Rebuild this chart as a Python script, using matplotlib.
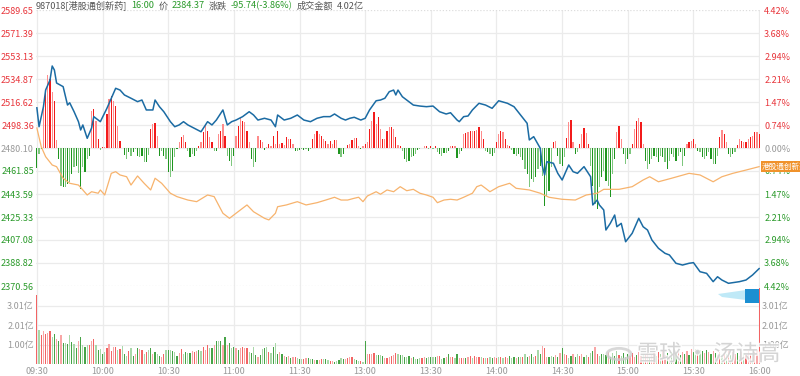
import matplotlib
matplotlib.use("Agg")
import matplotlib.pyplot as plt
import matplotlib.patheffects as pe
from matplotlib.patches import Rectangle, Polygon, Circle
import numpy as np

plt.rcParams['font.family'] = ['Noto Sans CJK SC', 'DejaVu Sans']

# ---- data --------------------------------------------------------------
code_name = "987018[港股通创新药]"
last_time = "16:00"
last_price = 2384.37
change = -95.74
change_pct = -3.86
turnover = 4.02  # 亿

base = 2480.10
price_ticks = [2589.65, 2571.39, 2553.13, 2534.87, 2516.62, 2498.36, 2480.10,
               2461.85, 2443.59, 2425.33, 2407.08, 2388.82, 2370.56]
time_labels = ['09:30', '10:00', '10:30', '11:00', '11:30', '13:00',
               '13:30', '14:00', '14:30', '15:00', '15:30', '16:00']
vol_ticks = [1.00, 2.01, 3.01]
vol_top = 4.02

# minute index (0 = 09:30, 150 = 13:00, 330 = 16:00) -> price
price_min = [0, 1, 3, 4, 6, 7, 8, 9, 12, 14, 15, 17, 19, 20, 21, 23, 25, 26, 28, 29,
             32, 35, 36, 38, 40, 43, 46, 48, 50, 53, 54, 56, 58, 61, 63, 65, 67, 69,
             72, 75, 78, 80, 82, 85, 87, 89, 91, 94, 97, 99, 101, 104, 107, 109, 110,
             113, 116, 119, 122, 125, 128, 131, 134, 136, 139, 141, 143, 145, 148,
             150, 152, 155, 157, 159, 161, 163, 164, 165, 167, 170, 172, 175, 178,
             181, 184, 187, 189, 192, 193, 195, 197, 199, 202, 205, 208, 211, 215,
             218, 221, 224, 225, 227, 230, 231, 232, 233, 236, 238, 240, 241, 243,
             245, 247, 250, 253, 254, 256, 257, 259, 260, 262, 264, 265, 267, 269,
             272, 273, 275, 277, 279, 281, 284, 287, 289, 292, 295, 298, 300, 303,
             306, 309, 311, 313, 316, 318, 321, 324, 327, 330]
price_val = [2512.0, 2497.0, 2512.9, 2526.1, 2534.1, 2545.2, 2542.0, 2531.7, 2528.8,
             2514.2, 2516.0, 2508.9, 2501.0, 2494.4, 2498.4, 2487.8, 2496.0, 2505.0,
             2502.3, 2501.0, 2511.6, 2523.5, 2527.5, 2526.1, 2522.2, 2519.6, 2516.9,
             2518.2, 2510.3, 2510.3, 2518.2, 2512.9, 2508.9, 2501.0, 2497.0, 2498.4,
             2501.0, 2498.4, 2495.7, 2493.0, 2501.0, 2498.4, 2502.3, 2510.3, 2498.4,
             2501.0, 2502.3, 2505.0, 2508.9, 2506.3, 2502.3, 2503.7, 2502.3, 2497.0,
             2506.3, 2502.3, 2503.7, 2506.3, 2502.3, 2501.0, 2503.7, 2505.0, 2505.0,
             2507.1, 2503.7, 2502.3, 2503.7, 2504.5, 2502.3, 2503.7, 2510.3, 2517.6,
             2518.2, 2519.6, 2524.8, 2526.1, 2522.2, 2526.1, 2520.8, 2516.9, 2514.2,
             2513.4, 2512.9, 2513.4, 2508.9, 2507.1, 2508.1, 2502.3, 2501.0, 2505.0,
             2505.5, 2510.3, 2515.6, 2514.2, 2511.6, 2517.6, 2515.6, 2512.9, 2506.3,
             2499.7, 2486.5, 2489.1, 2479.9, 2465.3, 2458.7, 2469.2, 2468.0, 2460.0,
             2454.7, 2458.7, 2466.6, 2461.3, 2460.0, 2465.3, 2457.3, 2434.9, 2438.8,
             2434.9, 2430.9, 2415.0, 2420.3, 2426.9, 2417.6, 2420.3, 2405.7, 2412.4,
             2416.4, 2424.3, 2417.6, 2415.0, 2407.1, 2400.5, 2396.5, 2395.2, 2388.6,
             2387.2, 2388.6, 2389.1, 2381.9, 2380.6, 2374.0, 2377.9, 2375.3, 2372.7,
             2373.2, 2374.0, 2375.3, 2379.3, 2384.37]

# orange comparison line, same price scale
bench_min = [0, 2, 4, 7, 9, 12, 15, 19, 21, 23, 25, 28, 29, 31, 34, 36, 38, 41, 43,
             46, 49, 52, 54, 57, 61, 64, 69, 73, 78, 81, 85, 88, 91, 96, 99, 104, 106,
             109, 110, 114, 119, 123, 128, 132, 136, 139, 142, 145, 147, 149, 151, 155,
             157, 160, 163, 166, 169, 172, 175, 178, 181, 183, 186, 189, 192, 195,
             199, 201, 203, 205, 207, 211, 216, 219, 225, 230, 234, 240, 246, 251,
             256, 259, 266, 272, 277, 280, 284, 290, 298, 303, 309, 313, 318, 324, 330]
bench_val = [2496.0, 2481.1, 2473.2, 2466.6, 2465.3, 2456.1, 2452.1, 2450.7, 2446.8,
             2442.8, 2445.4, 2444.2, 2446.8, 2442.8, 2460.0, 2461.3, 2458.7, 2457.3,
             2450.7, 2457.9, 2452.1, 2446.8, 2456.1, 2452.1, 2444.2, 2441.5, 2438.8,
             2437.5, 2442.8, 2441.5, 2428.3, 2424.3, 2428.3, 2434.9, 2429.5, 2424.3,
             2423.0, 2428.3, 2433.5, 2434.9, 2437.5, 2434.9, 2436.7, 2438.8, 2441.0,
             2438.8, 2438.8, 2440.2, 2441.0, 2437.5, 2442.0, 2445.4, 2443.4, 2446.8,
             2445.4, 2449.4, 2446.2, 2447.3, 2444.2, 2442.8, 2441.0, 2436.7, 2438.8,
             2439.4, 2438.8, 2441.0, 2444.2, 2449.4, 2450.7, 2448.1, 2445.4, 2449.4,
             2452.1, 2448.1, 2446.8, 2444.2, 2441.0, 2439.4, 2438.8, 2442.8, 2444.2,
             2447.3, 2447.3, 2449.4, 2454.7, 2457.3, 2453.3, 2456.1, 2460.0, 2458.7,
             2453.3, 2457.3, 2460.0, 2462.6, 2465.3]

# per-minute buy/sell pressure bars (indicator units, + red / - green)
flow = [-20, -6, -1, 42, 57, 73, 69, 56, 47, 8,
        -11, -38, -39, -39, -36, -34, -26, -19, -18, -25,
        -41, -19, -24, -11, -8, 37, 39, 27, 9, -2,
        1, 1, 34, 49, 52, 47, 42, 22, 7, 0,
        -7, -11, -4, -8, -4, -1, -8, -9, -8, -14,
        -14, -7, 19, 24, 25, 12, -8, -3, -8, -11,
        -24, -29, -23, -9, -1, 6, 11, 13, 6, -3,
        -9, -6, -8, -3, 2, 6, 16, 24, 17, 11,
        6, -3, -3, 14, 17, 24, 12, -8, -13, -18,
        -8, 12, 22, 30, 27, 26, 17, 6, -11, -19,
        -14, 12, 8, 6, -2, 1, 4, 2, 12, 4,
        17, 4, 5, 3, 11, 9, 9, 4, -3, -3,
        -2, -1, -2, -1, -3, -1, 9, 14, 17, 14,
        12, 9, 7, 4,
        7, 4, 8, 8, -6, -9, -6, 0, 3, 4,
        8, 10, 10, 2, -1, 2, 4, 6, 19, 27,
        36, 24, 31, 19, 9, 9, 17, 21, 21, 19,
        11, 3, 2, -3, -11, -14, -13, -9, -8, -6,
        -2, -1, 0, 2, 2, -1, 2, -1, 2, -4,
        -6, -8, -5, -5, -3, 2, 2, 2, -10, -6,
        -3, 14, 15, 16, 17, 17, 17, 18, 21, 17,
        9, -3, -4,
        -6, -8, -5, 6, 14, 17, 16, 9, 3, 2,
        -2, -6, -8, -6, -9, -12, -21, -26, -39, -31,
        -34, -29, -21, -18, -28, -58, -48, -43, -19, 6,
        7, -8, -16, -18, -9, 10, 26, 28, 6, -6,
        -4, 4, 14, 20, 15, 4, -18, -38, -56, -61,
        -39, -29, -23, -33, -38, -49, -26, -11, 16, 22,
        9, -6, -16, -11, -6, 4, 19, 27, 30, 26,
        4, -13, -21, -16, -11, -8, -9, -14, -8, -9,
        -14, -21, -13, -6, -9, -13, -8, -4, -18, -8,
        4, 6, 7, 9, 4, -3, -4, -9, -11, -8,
        -4, -11, -16, -16, -8, 11, 18, 14, 6, -6,
        -9, -6, -4, 3, 9, 7, 6, 6, 9, 11,
        12, 16, 16, 14]
flow_scale = 0.794  # indicator unit -> price points

# per-minute turnover in 亿; sign = minute direction (+ red, - green)
vol_signed = [3.55,
    -1.76, 1.47, 1.68, 1.56, 1.61, 1.71, -1.39, -1.56, 1.30, -1.17,
    1.51, -1.10, -1.08, -1.05, -1.47, -1.14, -1.05, -0.83, 1.17, -1.39,
    -0.97, -0.88, -1.00, 0.97, 1.20, 1.27, -1.00, -0.71, -0.76, -0.54,
    -0.63, 0.80, 1.02, 0.66, 0.88, 0.88, -0.71, 0.76, -0.93, -0.54,
    -0.42, 0.66, -0.80, -0.42, 0.49, -0.80, 0.76, 0.71, -0.49, 0.63,
    -0.71, -0.80, 0.49, -0.63, -0.49, -0.41, 0.37, 0.49, -0.71, -0.71,
    -0.71, -0.66, -0.63, -0.42, 0.59, 0.76, -0.54, -0.63, -0.59, -0.59,
    0.66, 0.63, 0.66, -0.71, -0.66, 0.88, 0.71, 0.97, -0.83, -0.80,
    1.00, -1.17, -1.17, -1.17, 1.00, -1.39, 1.00, -1.08, -0.80, -0.88,
    0.80, -0.71, 0.80, 0.88, 0.83, 0.80, -0.63, -0.59, -0.88, -0.46,
    0.37, -0.46, -0.76, -0.83, -0.88, 0.63, -0.59, -0.88, -1.10, -0.49,
    0.60,
    -0.49, 0.42, -0.37, 0.41, -0.32, 0.37, 0.34, -0.29, -0.24, -0.25,
    0.25, 0.29, -0.29, -0.25, -0.24, 0.20, -0.20, 0.22, 0.25, -0.25,
    -0.25, -0.19, 0.15, 0.17, -0.12, -0.17, -0.19, -0.29, -0.24, 0.24,
    0.32, 0.34, 0.37, -0.24, -0.20, -0.17, 0.15,
    -0.10, -1.17,
    0.54, 0.49, 0.54, 0.58, -0.46, -0.46, -0.46, -0.42, 0.29, 0.32,
    0.37, 0.41, 0.46, 0.59, -0.49, -0.46, -0.46, -0.34, -0.37, -0.41,
    0.32, -0.34, -0.25, -0.25, -0.29, 0.32, 0.37, -0.29, -0.34, -0.34,
    -0.37, -0.37, 0.41, 0.41, -0.24, -0.29, 0.37, -0.49, 0.34, 0.37,
    -0.29, -0.49, 0.32, 0.29, 0.29, -0.29, 0.37, 0.42, -0.29, 0.41,
    0.37, 0.34, -0.37, 0.29, -0.32, 0.29, -0.34, -0.29, 0.37, 0.29,
    -0.34, 0.36, -0.29, 0.34, 0.29, -0.41, -0.32, -0.37, 0.29, -0.34,
    -0.37, 0.35,
    -0.49, -0.37, 0.41, -0.54, -0.34, 0.41, -0.71, -0.54, 0.93, 0.80,
    0.37, -0.34, -0.41, -0.34, 0.46, -0.37, 0.59, -0.83, 0.54, 0.46,
    -0.32, -0.41, 0.49, -0.37, -0.49, 0.41, 0.49, -0.34, -0.46, 0.37,
    -0.59, -0.66, 0.88, 0.54, -0.41, -0.49,
    -0.52, -0.45, 0.60, -0.38, -0.55, -0.42, -0.66, 0.48, -0.40, -0.58, -0.35, -0.50,
    0.42, 0.55, 0.38, -0.46, 0.62, 0.40, -0.52, 0.45, 0.58, -0.36, 0.48, 0.55, -0.40, 0.62,
    -0.50, 0.66, 0.45, -0.58, 0.40, -0.62, 0.48, -0.55, 0.70, -0.44, 0.60, -0.52, 0.66, -0.48, 0.75,
    -0.62, -0.78, 0.55, -0.70, -0.66, 0.58, -0.72, 0.60, -0.52, 0.68, -0.56,
    0.48, 0.62, -0.44, 0.58, -0.52, 0.66, -0.45, 0.60, 0.50, -0.56, 0.42, 0.62, -0.55, 0.48,
    0.66, 0.58, -0.52, 0.64, 0.70,
    3.90]

# ---- colours -------------------------------------------------------------
RED, GREEN, GRAY = '#e8353b', '#2a9a2a', '#999999'
GRID = '#ebebeb'
LBL = 6.5

W, H = 800, 376
fig = plt.figure(figsize=(W / 100, H / 100), dpi=100)
x0, x1 = 36 / W, 760 / W
ax = fig.add_axes([x0, 1 - 286 / H, x1 - x0, 276 / H])
axv = fig.add_axes([x0, 1 - 364 / H, x1 - x0, 78 / H])

n_min = 330
tick_pos = np.arange(0, n_min + 1, 30)

for a in (ax, axv):
    a.set_xlim(-0.4, n_min + 0.4)
    for s in a.spines.values():
        s.set_visible(False)
    for t in tick_pos:
        a.axvline(t, color=GRID, lw=0.9, zorder=0)

# main panel grid
ax.set_ylim(price_ticks[-1], price_ticks[0])
for p in price_ticks:
    ls = (0, (1, 1.5)) if p in (price_ticks[0], price_ticks[-1]) else '-'
    ax.axhline(p, color='#dddddd' if ls != '-' else GRID, lw=0.9, ls=ls, zorder=0)

# pressure bars
flow = np.array(flow, dtype=float)
fi = np.arange(len(flow))
fcol = []
for i, v in zip(fi, flow):
    if v >= 0:
        fcol.append('#f21b1b' if i % 2 == 0 else '#ff8c8c')
    else:
        fcol.append('#1f951f' if i % 2 == 0 else '#7ec77e')
ax.bar(fi, flow * flow_scale, bottom=base, width=0.55, color=fcol, zorder=2)

ax.plot(bench_min, bench_val, color='#f7b36d', lw=0.9, zorder=3)
ax.plot(price_min, price_val, color='#1b6ba3', lw=1.1, zorder=4)

# left price labels
ax.set_yticks(price_ticks)
ax.set_yticklabels(['%.2f' % p for p in price_ticks])
ax.tick_params(axis='y', length=0, pad=1.5, labelsize=LBL)
ax.tick_params(axis='x', bottom=False, labelbottom=False)
for p, lab in zip(price_ticks, ax.get_yticklabels()):
    lab.set_color(RED if p > base + 0.01 else (GREEN if p < base - 0.01 else GRAY))

axr = ax.twinx()
axr.set_ylim(ax.get_ylim())
for s in axr.spines.values():
    s.set_visible(False)
axr.set_yticks(price_ticks)
axr.set_yticklabels(['%.2f%%' % (abs(p - base) / base * 100) for p in price_ticks])
axr.tick_params(axis='y', length=0, pad=3, labelsize=LBL)
for p, lab in zip(price_ticks, axr.get_yticklabels()):
    lab.set_color(RED if p > base + 0.01 else (GREEN if p < base - 0.01 else GRAY))

# orange series tag at the right edge
axr.text(1.003, bench_val[-1], '港股通创新药', transform=axr.get_yaxis_transform(),
         ha='left', va='center', fontsize=5.5, color='white', clip_on=False,
         bbox=dict(boxstyle='square,pad=0.2', fc='#f0922b', ec='none'), zorder=6)

# volume panel
vol_signed = np.array(vol_signed)
vi = np.arange(len(vol_signed))
vcol = []
for i, v in zip(vi, vol_signed):
    if v >= 0:
        vcol.append('#f26464' if i % 2 == 0 else '#f8a6a6')
    else:
        vcol.append('#46a346' if i % 2 == 0 else '#a9d8a9')
axv.set_ylim(0, vol_top)
for v in vol_ticks:
    axv.axhline(v, color=GRID, lw=0.9, zorder=0)
axv.bar(vi, np.abs(vol_signed), width=0.55, color=vcol, zorder=2)
axv.set_yticks(vol_ticks)
axv.set_yticklabels(['%.2f亿' % v for v in vol_ticks])
axv.tick_params(axis='y', length=0, pad=1.5, labelsize=LBL, labelcolor=GRAY,
                right=False, labelright=True)
axv.set_xticks(tick_pos)
axv.set_xticklabels(time_labels)
axv.tick_params(axis='x', length=0, pad=2, labelsize=LBL, labelcolor=GRAY)

# header line
fig.canvas.draw()
r = fig.canvas.get_renderer()
hdr = [(code_name, '#555555'), (last_time, GREEN), ('价', '#555555'),
       ('%.2f' % last_price, GREEN), ('涨跌', '#555555'),
       ('%.2f(%.2f%%)' % (change, change_pct), GREEN), ('成交金额', '#555555'),
       ('%.2f亿' % turnover, '#555555')]
hx = 36 / W
for txt, col in hdr:
    t = fig.text(hx, 1 - 6 / H, txt, color=col, fontsize=6.6, ha='left', va='center')
    hx += (t.get_window_extent(renderer=r).width + 4) / W

# marker box at lower right
fig.patches.append(Polygon([(718 / W, 1 - 294 / H), (746 / W, 1 - 290 / H),
                            (746 / W, 1 - 300 / H), (722 / W, 1 - 297 / H)],
                           closed=True, transform=fig.transFigure,
                           fc='#bfe9f7', ec='none', zorder=5))
fig.patches.append(Rectangle((745 / W, 1 - 303 / H), 14 / W, 14 / H,
                             transform=fig.transFigure, fc='#1b8fd2', ec='none', zorder=6))

# watermark
fig.patches.append(Circle((619 / W, 1 - 354 / H), 12 / W, transform=fig.transFigure,
                          fill=False, ec='#cfcfcf', lw=2.0, alpha=0.8, zorder=7))
fig.text(637 / W, 1 - 354 / H, '雪球 · 汤诗高', fontsize=16, color='#cccccc',
         alpha=0.8, ha='left', va='center', zorder=7,
         path_effects=[pe.withStroke(linewidth=2, foreground='white')])

fig.savefig('out.png', dpi=100)
